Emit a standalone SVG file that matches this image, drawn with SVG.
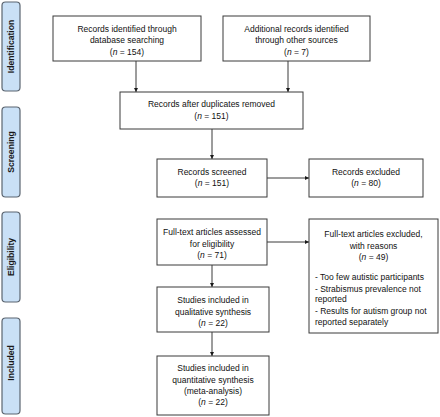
<svg xmlns="http://www.w3.org/2000/svg" width="440" height="417" viewBox="0 0 440 417">
<style>
.bg{fill:#ffffff}
.box{fill:#ffffff;stroke:#3a3a3a;stroke-width:1}
.side{fill:#c9e0f6;stroke:#5b6570;stroke-width:1.2}
.t{font-family:"Liberation Sans",Arial,sans-serif;font-size:8.5px;fill:#111111;text-anchor:middle}
.l{text-anchor:start}
.s{font-family:"Liberation Sans",Arial,sans-serif;font-size:8.6px;font-weight:bold;fill:#1a1a1a;text-anchor:middle}
.c{stroke:#3a3a3a;stroke-width:1;fill:none;marker-end:url(#ah)}
</style>
<defs>
<marker id="ah" viewBox="0 0 10 10" refX="10" refY="5" markerWidth="4.5" markerHeight="4.5" markerUnits="userSpaceOnUse" orient="auto">
<path d="M0,0 L10,5 L0,10 z" fill="#1a1a1a"/>
</marker>
</defs>
<rect class="bg" x="0" y="0" width="440" height="417"/>
<g id="side-identification">
<rect class="side" x="2" y="2" width="18" height="89" rx="3.5"/>
<text class="s" transform="translate(14.2,46.5) rotate(-90)">Identification</text>
</g>
<g id="side-screening">
<rect class="side" x="2" y="107" width="18" height="90" rx="3.5"/>
<text class="s" transform="translate(14.2,152) rotate(-90)">Screening</text>
</g>
<g id="side-eligibility">
<rect class="side" x="2" y="212" width="18" height="90" rx="3.5"/>
<text class="s" transform="translate(14.2,257) rotate(-90)">Eligibility</text>
</g>
<g id="side-included">
<rect class="side" x="2" y="318" width="18" height="96" rx="3.5"/>
<text class="s" transform="translate(14.2,363) rotate(-90)">Included</text>
</g>
<g id="connectors">
<path class="c" d="M136,61 V92"/>
<path class="c" d="M288,61 V92"/>
<path class="c" d="M212,129 V159"/>
<path class="c" d="M267,178 H309"/>
<path class="c" d="M212,265 V287"/>
<path class="c" d="M267,242 H309"/>
<path class="c" d="M212,332 V356"/>
</g>
<g id="n-database">
<rect class="box" x="53" y="16" width="148" height="45"/>
<text class="t" x="127" y="31.5">Records identified through</text>
<text class="t" x="127" y="43.3">database searching</text>
<text class="t" x="127" y="55">(<tspan font-style="italic">n</tspan> = 154)</text>
</g>
<g id="n-other">
<rect class="box" x="223" y="16" width="147" height="45"/>
<text class="t" x="296.5" y="31.5">Additional records identified</text>
<text class="t" x="296.5" y="43.3">through other sources</text>
<text class="t" x="296.5" y="55">(<tspan font-style="italic">n</tspan> = 7)</text>
</g>
<g id="n-dedup">
<rect class="box" x="120" y="92" width="183" height="37"/>
<text class="t" x="211.5" y="107">Records after duplicates removed</text>
<text class="t" x="211.5" y="119">(<tspan font-style="italic">n</tspan> = 151)</text>
</g>
<g id="n-screened">
<rect class="box" x="157" y="159" width="110" height="38"/>
<text class="t" x="212" y="175">Records screened</text>
<text class="t" x="212" y="186">(<tspan font-style="italic">n</tspan> = 151)</text>
</g>
<g id="n-excluded">
<rect class="box" x="309" y="159" width="114" height="38"/>
<text class="t" x="366" y="175">Records excluded</text>
<text class="t" x="366" y="186">(<tspan font-style="italic">n</tspan> = 80)</text>
</g>
<g id="n-fulltext">
<rect class="box" x="157" y="219" width="110" height="46"/>
<text class="t" x="212" y="235">Full-text articles assessed</text>
<text class="t" x="212" y="246.5">for eligibility</text>
<text class="t" x="212" y="258">(<tspan font-style="italic">n</tspan> = 71)</text>
</g>
<g id="n-ft-excluded">
<rect class="box" x="309" y="219" width="129" height="114"/>
<text class="t" x="373.5" y="237">Full-text articles excluded,</text>
<text class="t" x="373.5" y="249">with reasons</text>
<text class="t" x="373.5" y="260">(<tspan font-style="italic">n</tspan> = 49)</text>
<text class="t l" x="315" y="280">- Too few autistic participants</text>
<text class="t l" x="315" y="291.5">- Strabismus prevalence not</text>
<text class="t l" x="315" y="302">reported</text>
<text class="t l" x="315" y="314">- Results for autism group not</text>
<text class="t l" x="315" y="325">reported separately</text>
</g>
<g id="n-qualitative">
<rect class="box" x="157" y="287" width="112" height="45"/>
<text class="t" x="213" y="303">Studies included in</text>
<text class="t" x="213" y="314.7">qualitative synthesis</text>
<text class="t" x="213" y="326">(<tspan font-style="italic">n</tspan> = 22)</text>
</g>
<g id="n-quantitative">
<rect class="box" x="157" y="356" width="112" height="59"/>
<text class="t" x="213" y="371">Studies included in</text>
<text class="t" x="213" y="382.5">quantitative synthesis</text>
<text class="t" x="213" y="393.5">(meta-analysis)</text>
<text class="t" x="213" y="405">(<tspan font-style="italic">n</tspan> = 22)</text>
</g>
</svg>
